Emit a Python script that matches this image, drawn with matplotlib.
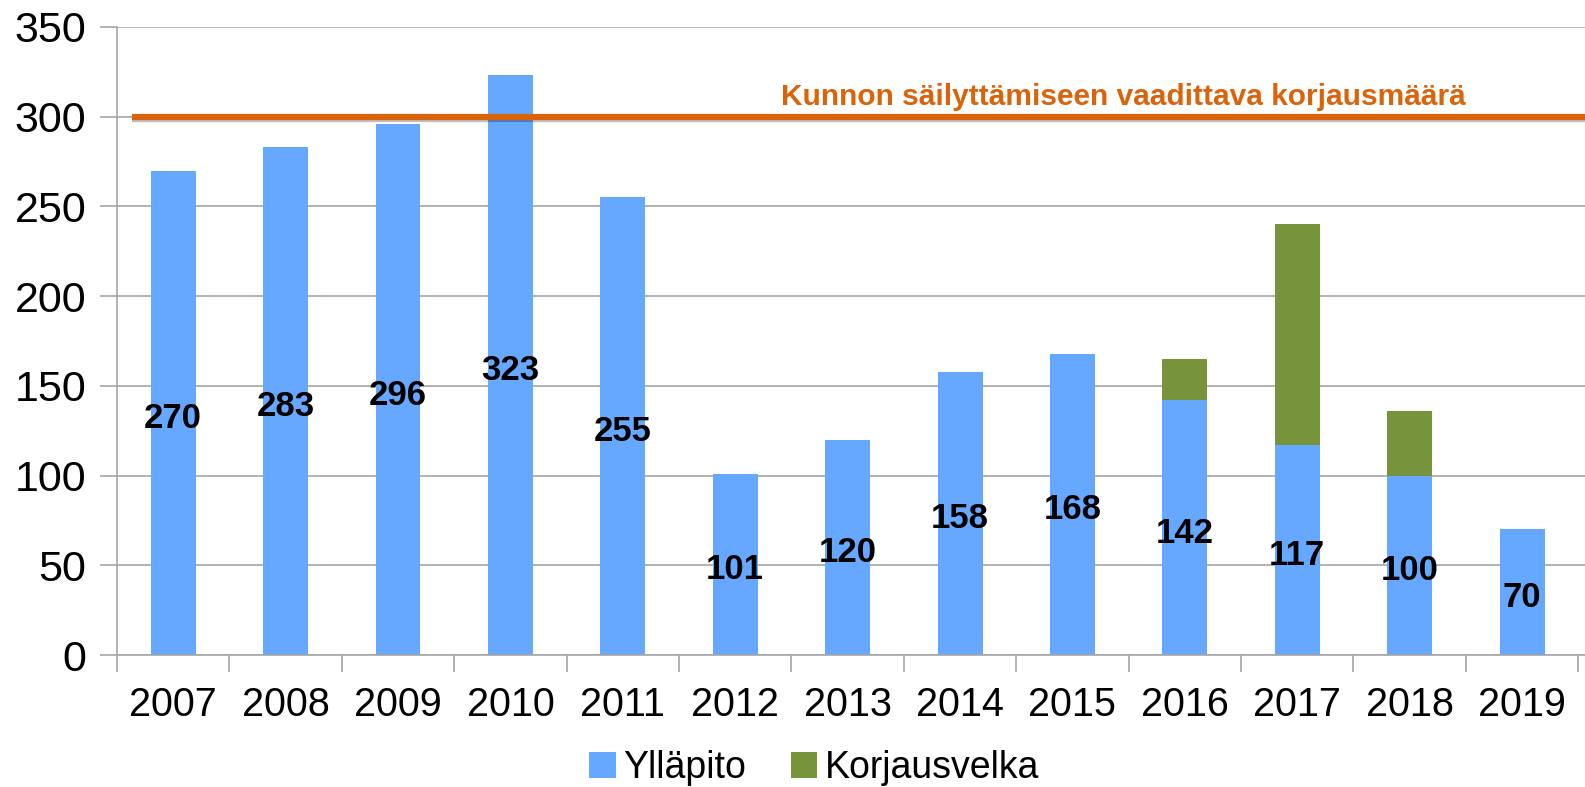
import matplotlib.pyplot as plt
import matplotlib.patheffects as pe
import numpy as np

vuodet = ["2007", "2008", "2009", "2010", "2011", "2012", "2013",
          "2014", "2015", "2016", "2017", "2018", "2019"]
yllapito = [270, 283, 296, 323, 255, 101, 120, 158, 168, 142, 117, 100, 70]
korjausvelka = [0, 0, 0, 0, 0, 0, 0, 0, 0, 23, 123, 36, 0]
tavoite = 300

sininen = "#66A8FF"
vihrea = "#77933C"
oranssi = "#D9640C"
harmaa = "#A6A6A6"

plt.rcParams['font.family'] = ['Liberation Sans', 'DejaVu Sans']

fig = plt.figure(figsize=(15.85, 7.87), dpi=100)
ax = fig.add_axes([0.0738, 0.1677, 0.9262, 0.798])

x = np.arange(len(vuodet))
ax.bar(x, yllapito, width=0.4, color=sininen, label="Ylläpito", zorder=2)
ax.bar(x, korjausvelka, width=0.4, bottom=yllapito, color=vihrea,
       label="Korjausvelka", zorder=2)
# arvot sinisen palkin keskelle
for xi, v in zip(x, yllapito):
    ax.annotate(str(v), (xi, v / 2), xytext=(0, -4), textcoords='offset points',
                ha='center', va='center', fontsize=25, fontweight='bold', zorder=4)

# vaadittava taso
ax.plot([-0.37, 13], [tavoite, tavoite], color=oranssi, lw=4.5, zorder=3,
        solid_capstyle='butt',
        path_effects=[pe.SimpleLineShadow(offset=(0, -2), alpha=0.25), pe.Normal()])
ax.text(8.45, tavoite + 11, "Kunnon säilyttämiseen vaadittava korjausmäärä",
        color=oranssi, fontsize=21.5, fontweight='bold', ha='center', va='center')

ax.set_xlim(-0.5, 12.56)
ax.set_ylim(0, 350)
ax.set_yticks(range(0, 351, 50))
ax.set_xticks(x)
ax.set_xticklabels(vuodet)
ax.set_xticks(np.arange(-0.5, 13, 1), minor=True)
ax.tick_params(axis='x', which='major', length=0, labelsize=28.5, pad=22)
ax.tick_params(axis='x', which='minor', length=12, color=harmaa, width=1.2)
ax.tick_params(axis='y', length=12, color=harmaa, width=1.2, labelsize=31, pad=10)

ax.grid(axis='y', color=harmaa, lw=1.2, zorder=0)
for s in ['top', 'right']:
    ax.spines[s].set_visible(False)
for s in ['left', 'bottom']:
    ax.spines[s].set_color(harmaa)
    ax.spines[s].set_linewidth(1.2)

ax.legend(loc='center', bbox_to_anchor=(0.475, -0.18), ncol=2, frameon=False,
          fontsize=27, handlelength=0.7, handleheight=0.7, handletextpad=0.2,
          columnspacing=1.2, borderaxespad=0)

fig.savefig("out.png")
